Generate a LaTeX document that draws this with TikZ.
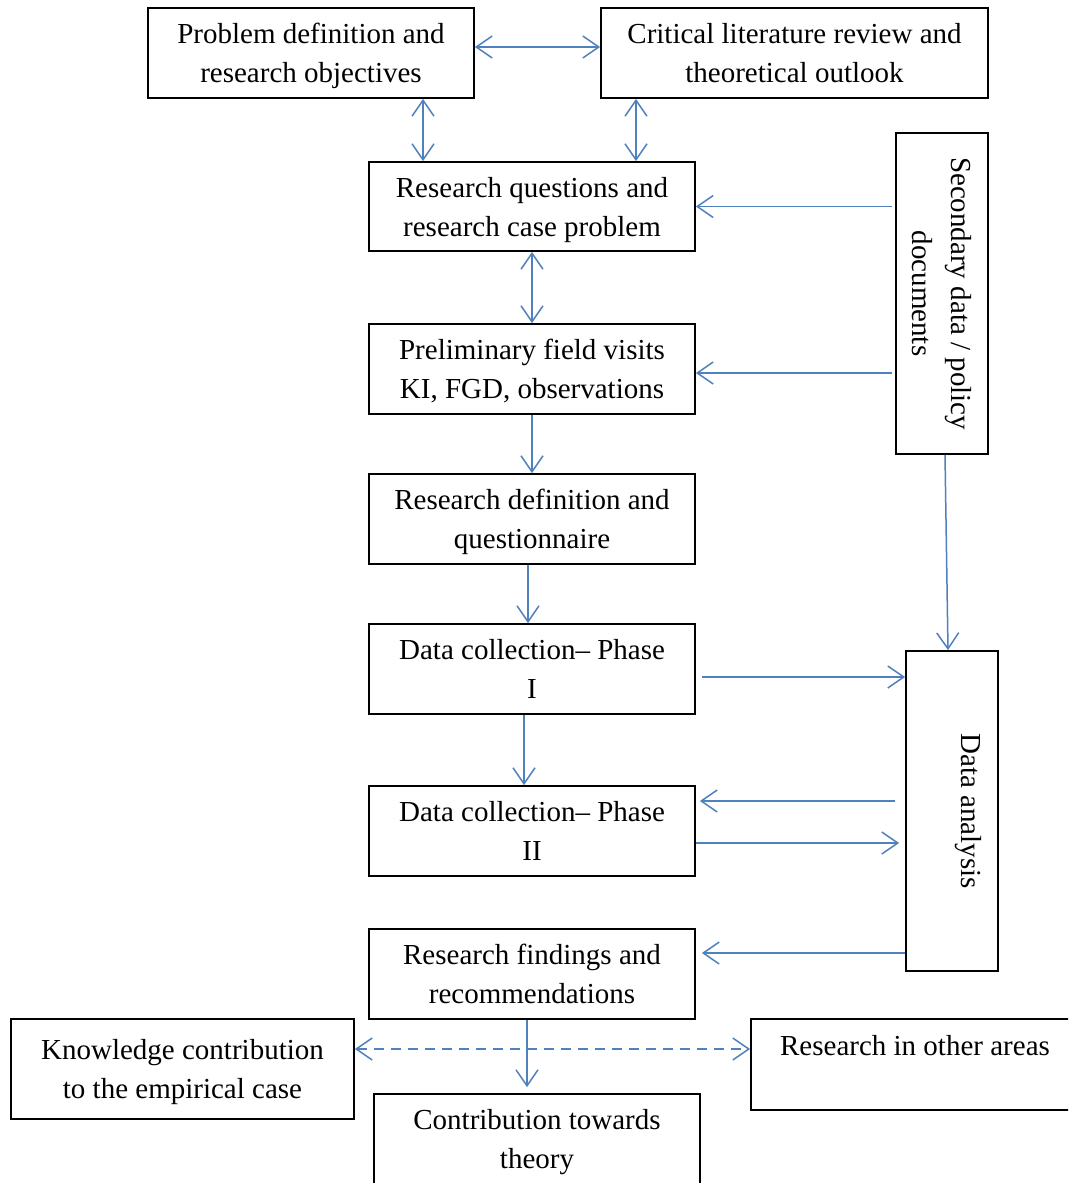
\documentclass[tikz,border=0pt]{standalone}
\usepackage{fontspec}
\setmainfont{Liberation Serif}
\usetikzlibrary{arrows.meta,calc}
\definecolor{arrblue}{RGB}{79,129,189}
\begin{document}
\begin{tikzpicture}[x=1pt,y=-1pt,
 basebox/.style={draw=black,line width=1.8pt,align=center,inner sep=0pt,
   font=\fontsize{29}{39}\selectfont,minimum height=90pt},
 box/.style={basebox,text depth=-8pt},
 rotbox/.style={basebox,rotate=-90,minimum height=92pt},
 tipb/.tip={Straight Barb[length=16pt,width=22pt]},
 arr/.style={draw=arrblue,line width=1.5pt,-tipb},
 dbl/.style={draw=arrblue,line width=1.5pt,tipb-tipb},
 dsh/.style={dbl,dash pattern=on 10pt off 7pt}]
\useasboundingbox (0,0) rectangle (1068,1183);
\clip (0,0) rectangle (1068,1183);
\fill[white] (0,0) rectangle (1068,1183);

\node[box,minimum width=326pt] (b1) at (311,53) {Problem definition and\\research objectives};
\node[box,minimum width=387pt] (b2) at (794.5,53) {Critical literature review and\\theoretical outlook};
\node[box,minimum width=326pt,minimum height=89pt] (rq) at (532,206.5) {Research questions and\\research case problem};
\node[box,minimum width=326pt] (pre) at (532,369) {Preliminary field visits\\KI, FGD, observations};
\node[box,minimum width=326pt] (rd) at (532,519) {Research definition and\\questionnaire};
\node[box,minimum width=326pt] (dc1) at (532,669) {Data collection-- Phase\\I};
\node[box,minimum width=326pt] (dc2) at (532,831) {Data collection-- Phase\\II};
\node[box,minimum width=326pt] (rf) at (532,974) {Research findings and\\recommendations};
\node[box,minimum width=343pt,minimum height=100pt] (kc) at (182.5,1069) {Knowledge contribution\\to the empirical case};
\node[box,minimum width=326pt] (ct) at (537,1139) {Contribution towards\\theory};
\node[box,minimum width=328pt,minimum height=91pt] (ro) at (915,1064.5) {Research in other areas\\\mbox{}};
\node[rotbox,minimum width=321pt] (sd) at (942,293.5) {Secondary data / policy\\documents};
\node[rotbox,minimum width=320pt] (da) at (952,811) {Data analysis\\\mbox{}};

\coordinate (xa) at (423,0);
\coordinate (xb) at (636,0);
\draw[dbl] ([yshift=6pt]b1.east) -- ([yshift=6pt]b2.west);
\draw[dbl] (b1.south -| xa) -- (rq.north -| xa);
\draw[dbl] (b2.south -| xb) -- (rq.north -| xb);
\draw[arr] ($(rq.east -| sd.south)+(-3,0)$) -- (rq.east);
\coordinate (p1) at ($(pre.east)+(0,4)$);
\draw[arr] ($(p1 -| sd.south)+(-3,0)$) -- (p1);
\draw[dbl] (rq.south) -- (pre.north);
\draw[arr] (pre.south) -- (rd.north);
\draw[arr] ([xshift=-4pt]rd.south) -- ([xshift=-4pt]dc1.north);
\draw[arr] ([xshift=-8pt]dc1.south) -- ([xshift=-8pt]dc2.north);
\draw[arr] ([xshift=3pt]sd.east) -- ([xshift=-4pt]da.west);
\coordinate (p2) at ($(dc1.east)+(6,8)$);
\draw[arr] (p2) -- (p2 -| da.south);
\coordinate (p3) at ($(dc2.east)+(4,-30)$);
\draw[arr] ($(p3 -| da.south)+(-10,0)$) -- (p3);
\coordinate (p4) at ($(dc2.east)+(0,12)$);
\draw[arr] (p4) -- ($(p4 -| da.south)+(-6,0)$);
\coordinate (p5) at ($(rf.east)+(6,-21)$);
\draw[arr] (p5 -| da.south) -- (p5);
\draw[arr,shorten >=6pt] ([xshift=-5pt]rf.south) -- ([xshift=-10pt]ct.north);
\coordinate (p6) at ($(kc.east)+(0,-20)$);
\draw[dsh] (p6) -- (p6 -| ro.west);
\end{tikzpicture}
\end{document}
